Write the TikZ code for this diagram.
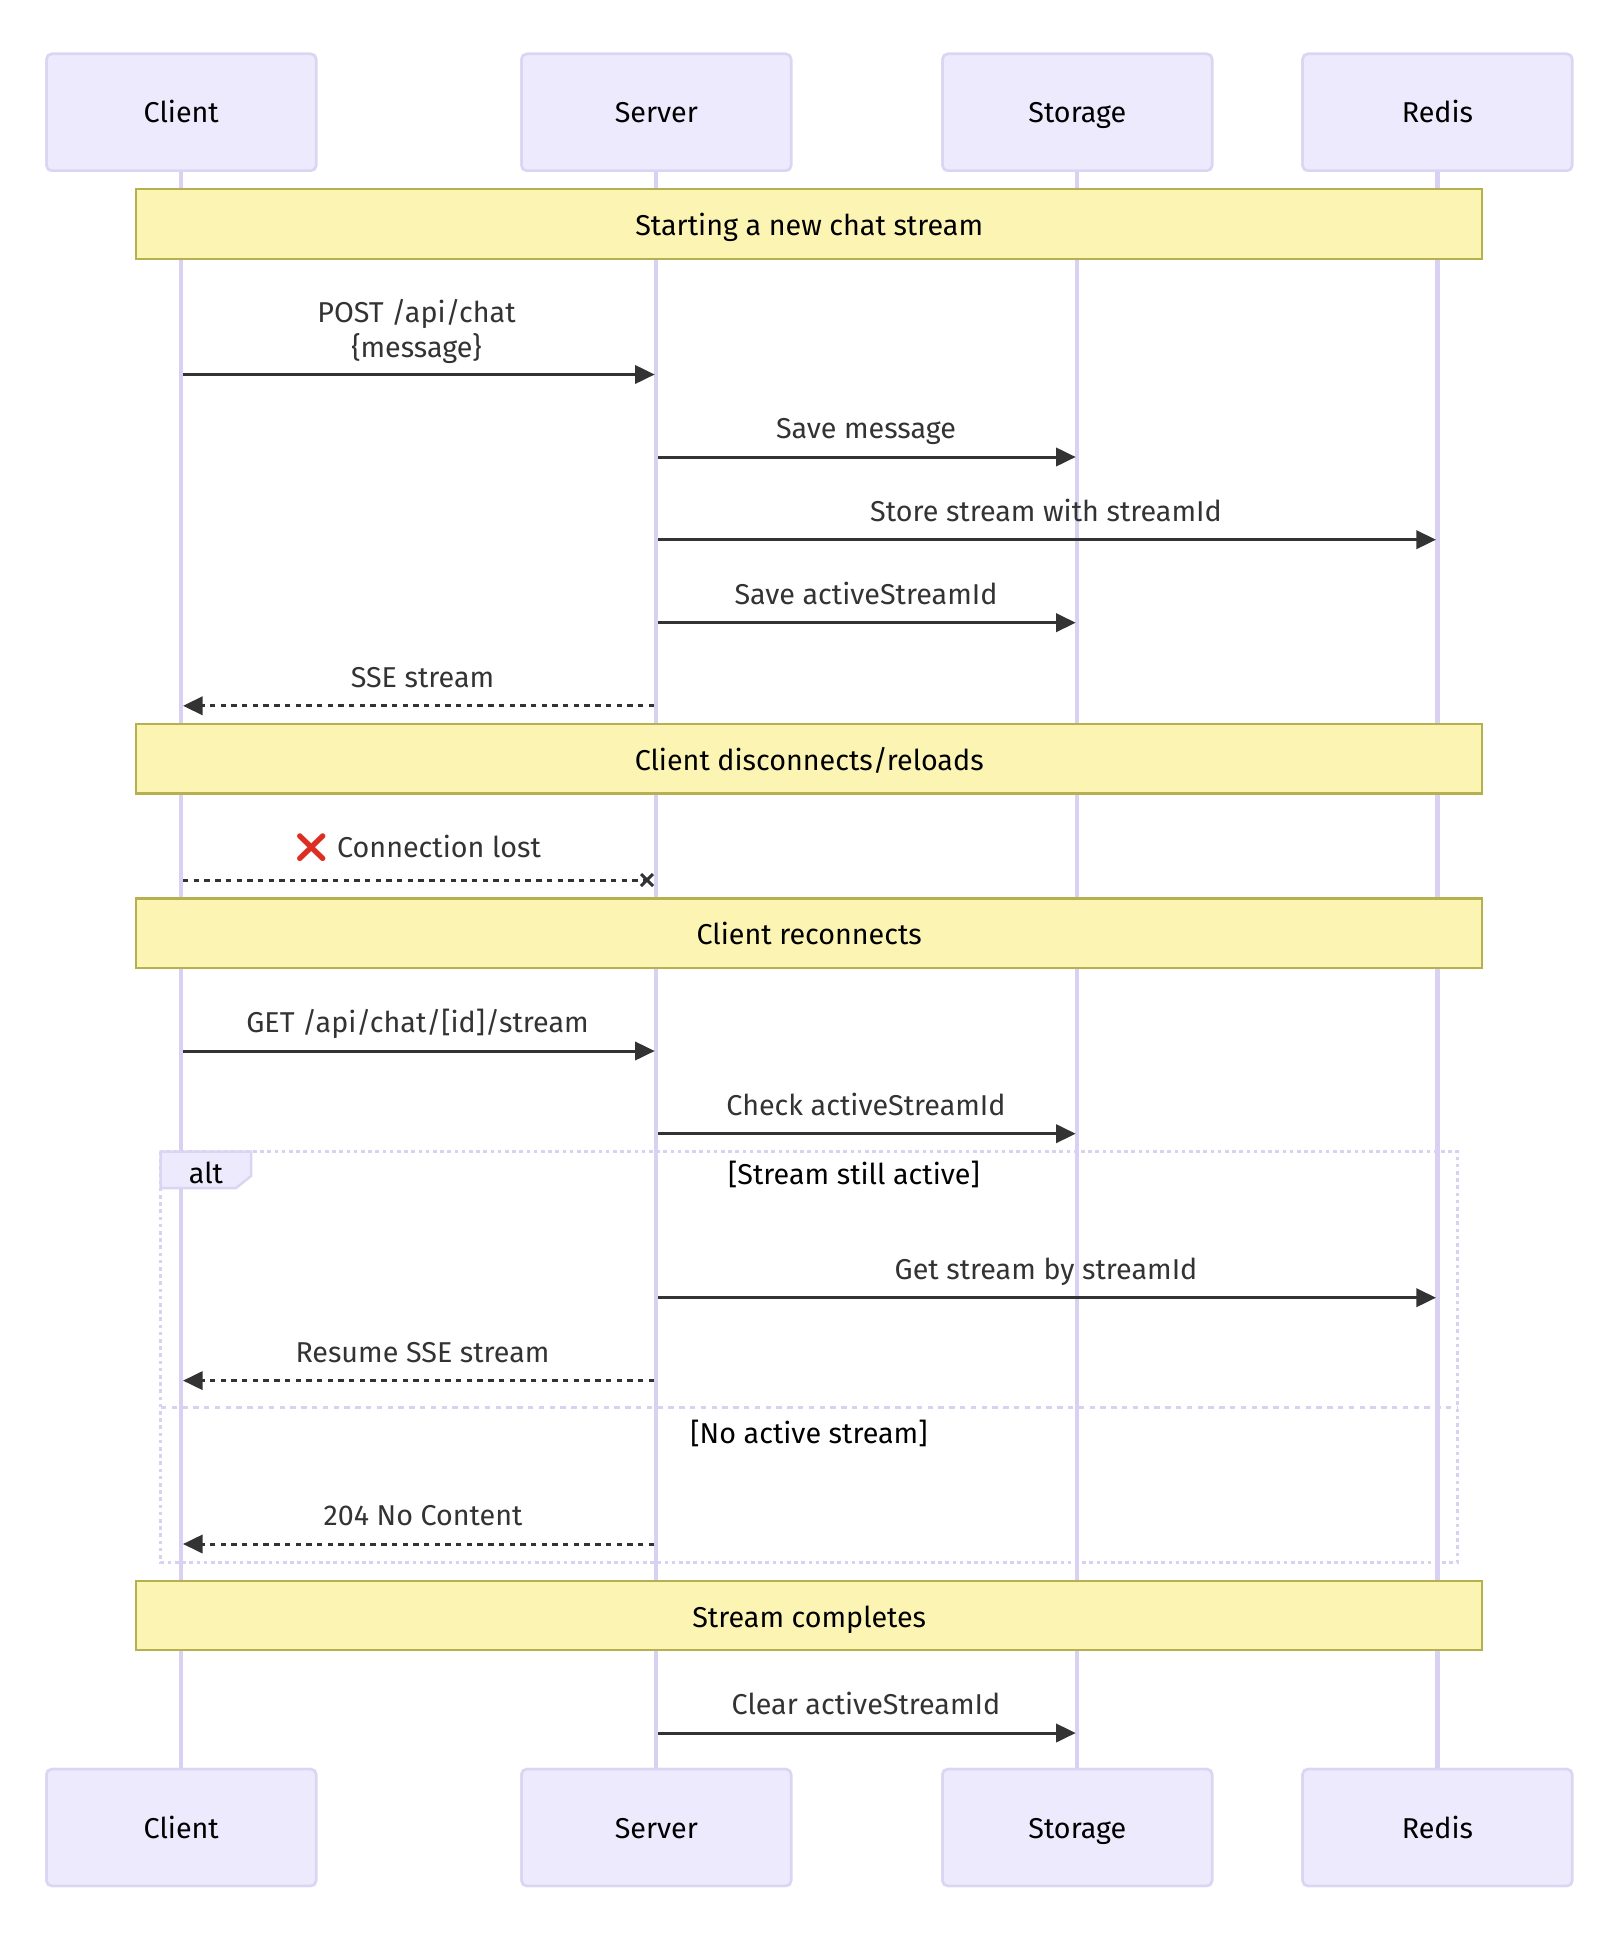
\documentclass[tikz,border=0pt]{standalone}
\usepackage{fontspec}
\usetikzlibrary{arrows.meta}
\setmainfont{Fira Sans}
\newfontfamily\emojifont{Noto Emoji}
\definecolor{actorfill}{HTML}{ECEAFC}
\definecolor{actorline}{HTML}{DBD4F3}
\definecolor{lifecolor}{HTML}{D8D1F2}
\definecolor{notefill}{HTML}{FCF4B3}
\definecolor{noteline}{HTML}{B4B14E}
\definecolor{msgtext}{HTML}{333333}
\definecolor{lostred}{HTML}{DD2E23}
\tikzset{
  x=1pt,y=-1pt,
  lbl/.style={font=\fontsize{28.7}{34.7}\selectfont,inner sep=0pt,anchor=base,align=center},
  actorbox/.style={lbl,anchor=center,draw=actorline,fill=actorfill,line width=2.5pt,rounded corners=5pt,minimum width=269.4pt,minimum height=116.6pt,text=black,text height=25pt,text depth=3.6pt},
  notebox/.style={lbl,anchor=center,draw=noteline,fill=notefill,line width=2.2pt,minimum width=1346pt,minimum height=69.6pt,text=black,text height=25pt,text depth=1.6pt},
  lifeline/.style={draw=lifecolor,line width=4.2pt},
  msgline/.style={draw=msgtext,line width=3pt,-{Triangle[length=19.7pt,width=18.3pt]}},
  retline/.style={msgline,dash pattern=on 5.4pt off 5.3pt},
  lostline/.style={draw=msgtext,line width=3pt,dash pattern=on 5.4pt off 5.3pt},
  msgtxt/.style={lbl,text=msgtext},
  framedot/.style={draw=lifecolor,line width=3.4pt,dash pattern=on 3.6pt off 3.6pt},
  framedash/.style={draw=lifecolor,line width=3.4pt,dash pattern=on 5.4pt off 5.4pt},
  alttag/.style={draw=actorline,fill=actorfill,line width=2.5pt},
}
% #1 name, #2 x from, #3 x to, #4 y, #5 style, #6 label x, #7 label y offset, #8 label
\newcommand\msgarrow[8]{%
  \coordinate (#1s) at (#2,#4);
  \coordinate (#1e) at (#3,#4);
  \draw[#5] (#1s) -- (#1e);
  \node[msgtxt] (#1l) at (#6,#4-#7) {#8};
}
\begin{document}
\begin{tikzpicture}
\useasboundingbox (0,0) rectangle (1608,1940);
\fill[white] (0,0) rectangle (1608,1940);
% actors
\foreach \n/\cx/\t in {a/181.3/Client,b/656.3/Server,c/1077.3/Storage,d/1437.4/Redis}{
  \node[actorbox] (\n top) at (\cx,112.3) {\t};
  \node[actorbox] (\n bot) at (\cx,1827.5) {\t};
  \draw[lifeline] (\n top.south) -- (\n bot.north);
  \node[actorbox] at (\n top.center) {\t};
  \node[actorbox] at (\n bot.center) {\t};
}
% notes
\node[notebox] (n1) at (809.2,224) {Starting a new chat stream};
\node[notebox] (n2) at (809.2,758.7) {Client disconnects/reloads};
\node[notebox] (n3) at (809.2,933.2) {Client reconnects};
\node[notebox] (n4) at (809.2,1615.5) {Stream completes};
% messages
\msgarrow{m1}{183}{654.7}{374.5}{msgline}{416.5}{17.5}{POST /api/chat\\\{message\}}
\msgarrow{m2}{658}{1075.7}{457}{msgline}{866}{18.5}{Save message}
\msgarrow{m3}{658}{1436}{539.7}{msgline}{1046}{18.5}{Store stream with streamId}
\msgarrow{m4}{658}{1075.7}{622.7}{msgline}{866}{18.5}{Save activeStreamId}
\msgarrow{m5}{654}{183}{705.8}{retline}{422.5}{18.5}{SSE stream}
\msgarrow{m6}{183}{647}{880}{lostline}{417}{22.5}{{\color{lostred}\emojifont ❌} Connection lost}
\draw[draw=msgtext,line width=3pt] (m6e)+(-6,-6) -- +(6,6) (m6e)+(-6,6) -- +(6,-6);
\msgarrow{m7}{183}{654.7}{1051}{msgline}{417.5}{18.5}{GET /api/chat/[id]/stream}
\msgarrow{m8}{658}{1075.7}{1133.7}{msgline}{866}{18.5}{Check activeStreamId}
\msgarrow{m9}{658}{1436}{1297.7}{msgline}{1046}{18.5}{Get stream by streamId}
\msgarrow{m10}{654}{183}{1380.6}{retline}{422.5}{18.5}{Resume SSE stream}
\msgarrow{m11}{654}{183}{1544}{retline}{423}{18.5}{204 No Content}
\msgarrow{m12}{658}{1075.7}{1733}{msgline}{866}{18.5}{Clear activeStreamId}
% alt frame
\draw[framedot] (160.7,1151.7) rectangle (1457.6,1562.3);
\draw[framedash] (160.7,1407.3) -- (1457.6,1407.3);
\draw[alttag] (160.7,1151.7) -- (251,1151.7) -- (251,1176) -- (236,1188) -- (160.7,1188) -- cycle;
\node[lbl,text=black] (altl) at (206,1183) {alt};
\node[lbl,text=black] (g1) at (854,1184) {[Stream still active]};
\node[lbl,text=black] (g2) at (809,1443) {[No active stream]};
\end{tikzpicture}
\end{document}
